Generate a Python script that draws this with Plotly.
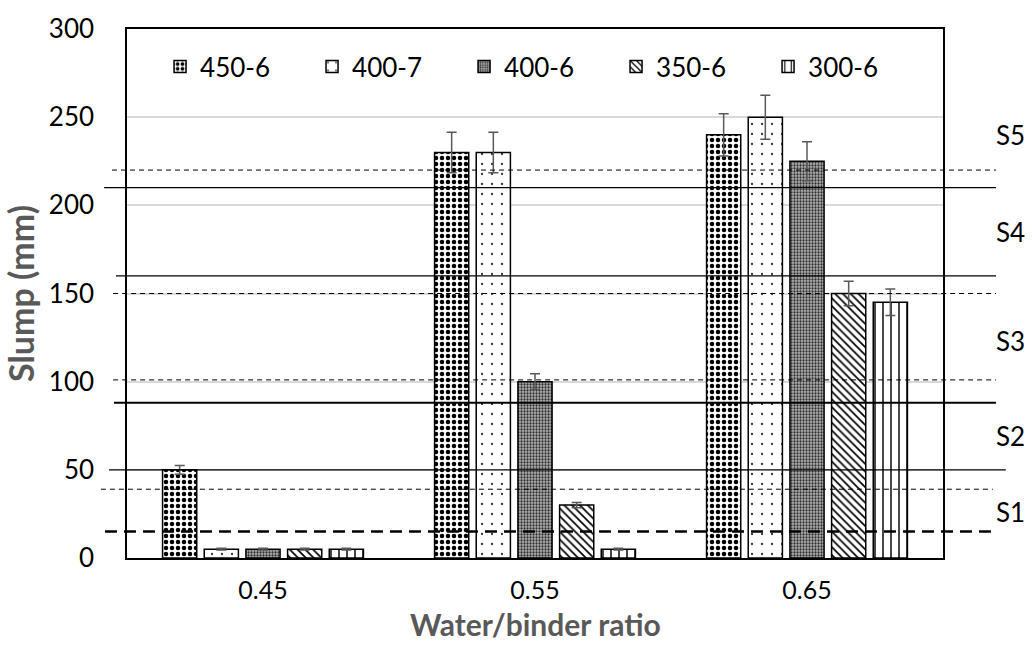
import plotly.graph_objects as go

categories = ["0.45", "0.55", "0.65"]
series_names = ["450-6", "400-7", "400-6", "350-6", "300-6"]
values = {
    "450-6": [50, 230, 240],
    "400-7": [5, 230, 250],
    "400-6": [5, 100, 225],
    "350-6": [5, 30, 150],
    "300-6": [5, 5, 145],
}
errors = {
    "450-6": [2.5, 11.5, 12],
    "400-7": [0.5, 11.5, 12.5],
    "400-6": [0.5, 4.5, 11],
    "350-6": [0.5, 1.5, 7],
    "300-6": [0.5, 0.5, 7.5],
}
y_ticks = [0, 50, 100, 150, 200, 250, 300]
class_limits = [15, 39, 50, 88, 101, 150, 160, 210, 220]
class_labels = ["S1", "S2", "S3", "S4", "S5"]
class_label_y = [26, 69, 123, 185, 240]

patterns = {
    "450-6": dict(shape=".", bgcolor="white", fgcolor="black", size=6, solidity=0.45, fillmode="replace"),
    "400-7": dict(shape=".", bgcolor="white", fgcolor="#333333", size=10, solidity=0.04, fillmode="replace"),
    "400-6": dict(shape=".", bgcolor="#b4b4b4", fgcolor="#303030", size=3, solidity=0.45, fillmode="replace"),
    "350-6": dict(shape="\\", bgcolor="white", fgcolor="black", size=5.5, solidity=0.3, fillmode="replace"),
    "300-6": dict(shape="|", bgcolor="white", fgcolor="black", size=8, solidity=0.18, fillmode="replace"),
}

FONT = "Lato"
fig = go.Figure()
for name in series_names:
    fig.add_trace(go.Bar(
        x=categories, y=values[name], name=name,
        marker=dict(color="white", line=dict(color="black", width=1.5), pattern=patterns[name]),
        error_y=dict(type="data", array=errors[name], visible=True, color="#595959", thickness=1.5, width=5),
    ))

# slump class limit lines (styles separate from values)
line_styles = [
    dict(dash="12px,7px", width=2.5, x0=-0.027, x1=1.061),   # 15
    dict(dash="5px,4px", width=1, x0=-0.032, x1=1.061),      # 39
    dict(dash="solid", width=1.3, x0=-0.022, x1=1.077),      # 50
    dict(dash="solid", width=2, x0=-0.016, x1=1.065),        # 88
    dict(dash="5px,4px", width=1, x0=-0.017, x1=1.065),      # 101
    dict(dash="5px,4px", width=1, x0=-0.017, x1=1.065),      # 150
    dict(dash="solid", width=1.3, x0=-0.0135, x1=1.065),     # 160
    dict(dash="solid", width=1.3, x0=-0.028, x1=1.065),      # 210
    dict(dash="5px,4px", width=1, x0=-0.0184, x1=1.065),     # 220
]
for v, st in zip(class_limits, line_styles):
    fig.add_shape(type="line", xref="paper", yref="y", x0=st["x0"], x1=st["x1"], y0=v, y1=v,
                  line=dict(color="black", width=st["width"], dash=st["dash"]), layer="above")

for lab, yv in zip(class_labels, class_label_y):
    fig.add_annotation(x=1.083, xref="paper", y=yv, yref="y", text=lab, showarrow=False,
                       font=dict(family=FONT, size=26, color="black"), xanchor="center", yanchor="middle")

# x-axis title placed as annotation for exact vertical control
fig.add_annotation(x=0.5, xref="paper", y=-0.124, yref="paper", text="<b>Water/binder ratio</b>",
                   showarrow=False, xanchor="center", yanchor="middle",
                   font=dict(family=FONT, size=30, color="#595959"))

fig.update_layout(
    width=1032, height=645,
    margin=dict(l=127, r=89, t=21, b=87),
    paper_bgcolor="white", plot_bgcolor="white",
    barmode="group", bargap=0.234, bargroupgap=0.18,
    font=dict(family=FONT, size=26, color="black"),
    showlegend=True,
    legend=dict(orientation="h", x=0.0405, y=0.929, xanchor="left", yanchor="middle",
                font=dict(family=FONT, size=26, color="black"),
                entrywidth=107, entrywidthmode="pixels", bgcolor="rgba(0,0,0,0)", itemwidth=30),
    xaxis=dict(showline=True, linecolor="black", linewidth=1.5, mirror=True, ticks="",
               tickfont=dict(family=FONT, size=25), ticklabelstandoff=9),
    yaxis=dict(range=[0, 300], tickvals=y_ticks, showline=True, linecolor="black", linewidth=1.5, mirror=True,
               showgrid=True, gridcolor="#d9d9d9", gridwidth=1.5, zeroline=False, ticks="",
               tickfont=dict(family=FONT, size=26), ticklabelstandoff=26,
               title=dict(text="<b>Slump (mm)</b>", font=dict(family=FONT, size=34, color="#595959"), standoff=4)),
)

fig.write_html("out.html")
